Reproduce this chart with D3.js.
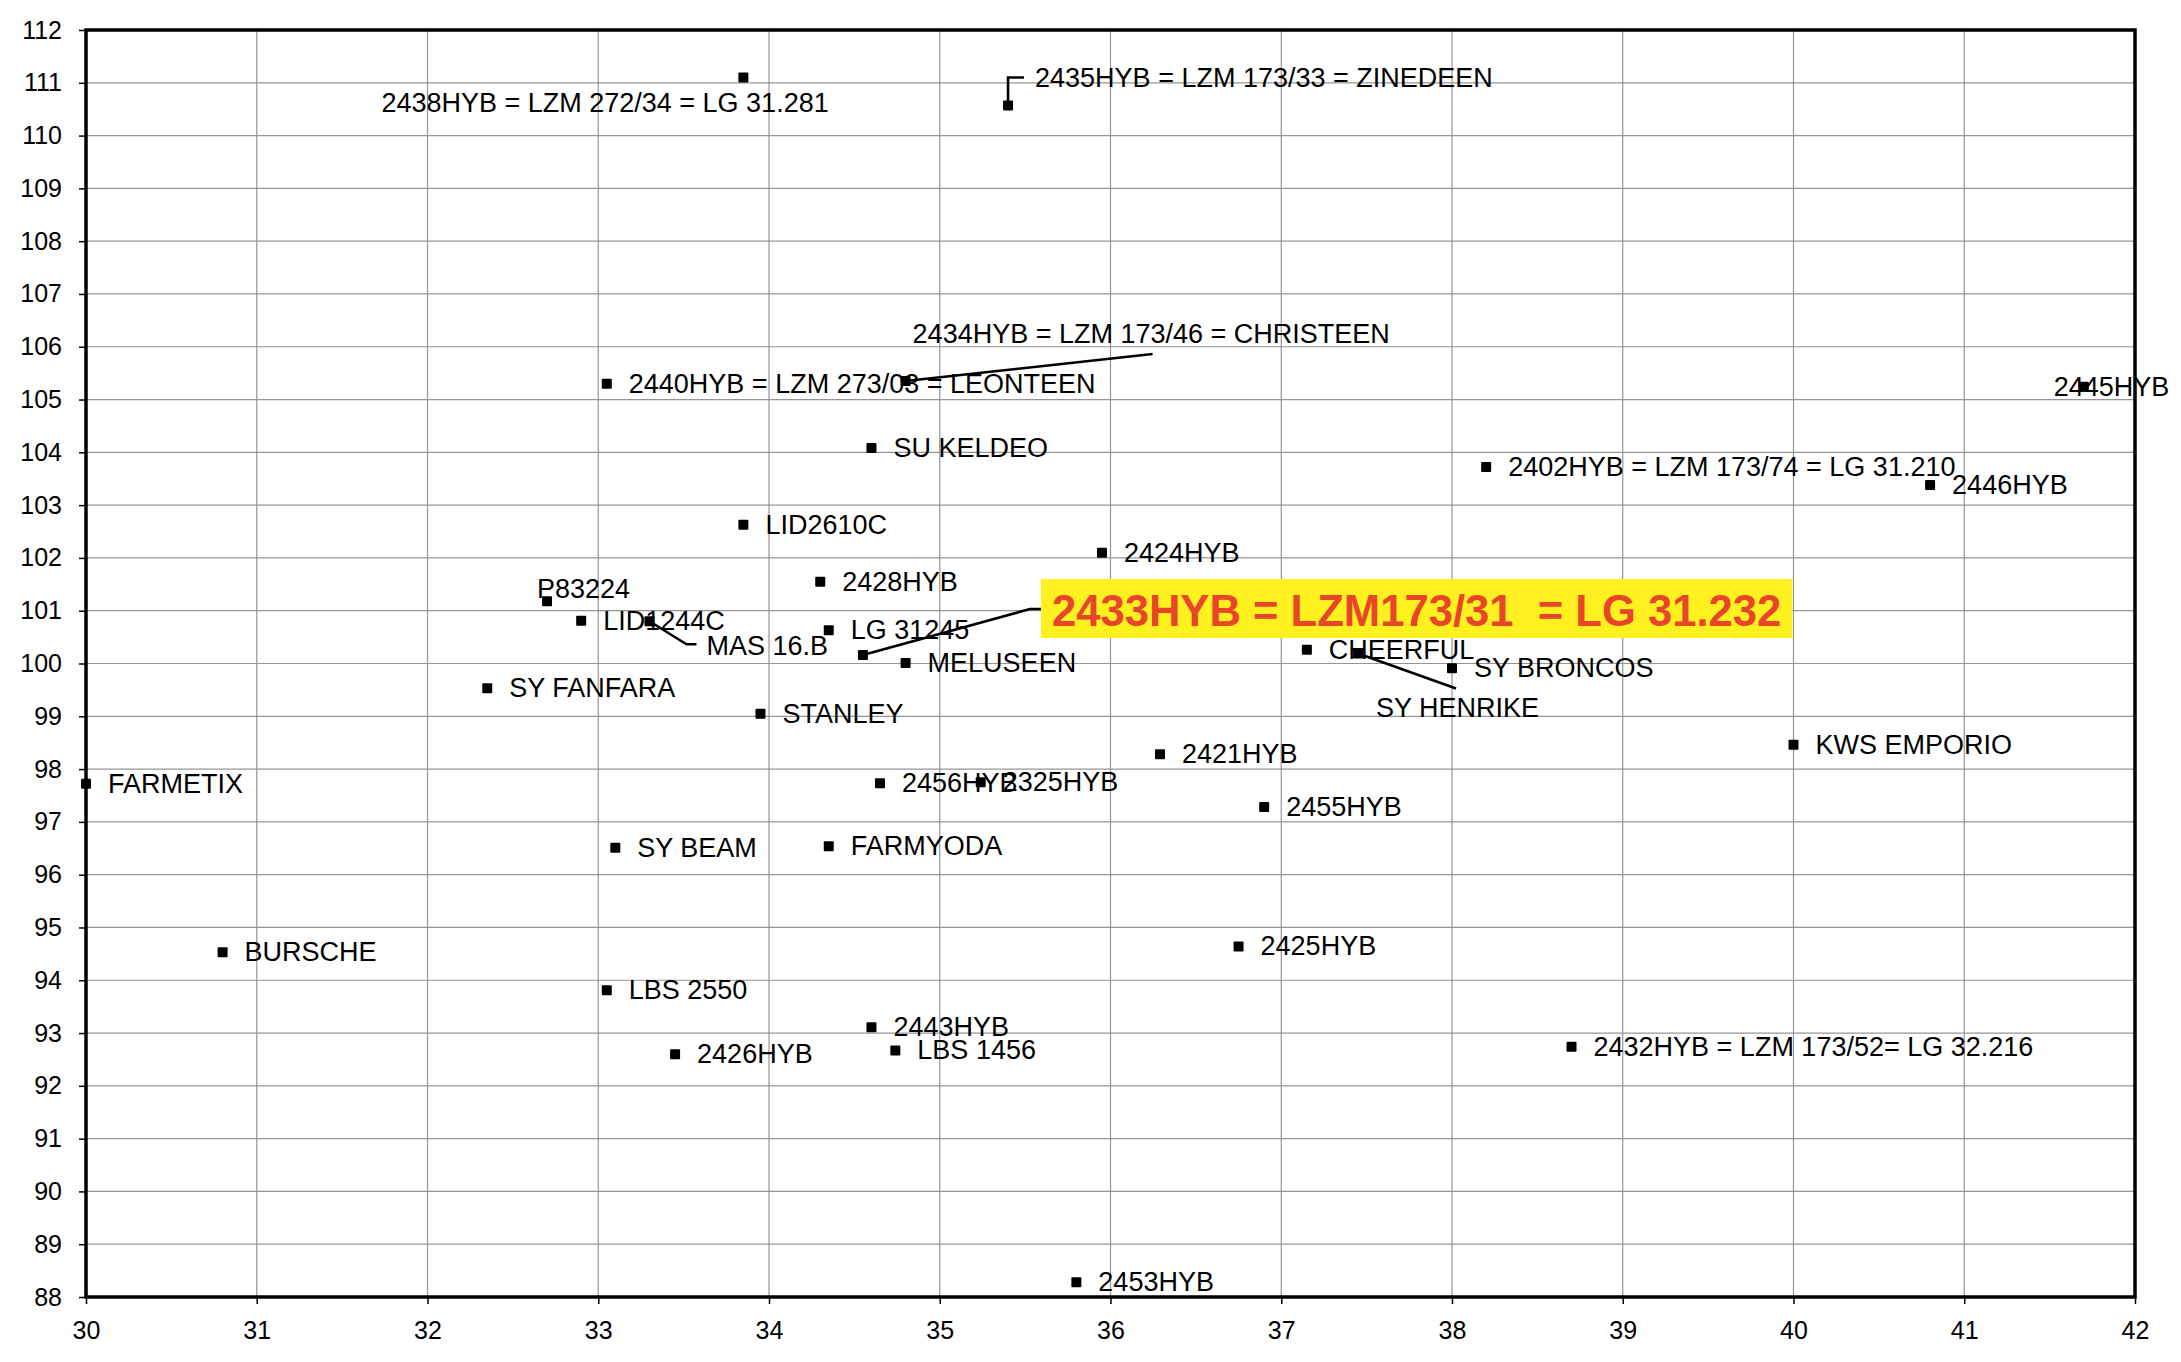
<!DOCTYPE html>
<html><head><meta charset="utf-8">
<script src="https://cdn.jsdelivr.net/npm/d3@7"></script>
<style>html,body{margin:0;padding:0;background:#fff}</style>
</head><body><svg id="chart" width="2181" height="1362"></svg>
<script>
// ---- data ----
const names = [
  "2438HYB = LZM 272/34 = LG 31.281", "2435HYB = LZM 173/33 = ZINEDEEN", "2434HYB = LZM 173/46 = CHRISTEEN",
  "2440HYB = LZM 273/03 = LEONTEEN", "SU KELDEO", "LID2610C", "2424HYB", "2428HYB", "P83224", "LID1244C",
  "MAS 16.B", "LG 31245", "2433HYB = LZM173/31  = LG 31.232", "MELUSEEN", "SY FANFARA", "STANLEY", "2421HYB",
  "2456HYB", "2325HYB", "SY BEAM", "FARMYODA", "CHEERFUL", "SY HENRIKE", "SY BRONCOS", "KWS EMPORIO",
  "2455HYB", "2425HYB", "2402HYB = LZM 173/74 = LG 31.210", "2446HYB", "2445HYB", "FARMETIX", "BURSCHE",
  "LBS 2550", "2443HYB", "LBS 1456", "2426HYB", "2453HYB", "2432HYB = LZM 173/52= LG 32.216"
];
const xValues = [
  33.85, 35.40, 34.80, 33.05, 34.60, 33.85, 35.95, 34.30, 32.70, 32.90,
  33.30, 34.35, 34.55, 34.80, 32.35, 33.95, 36.29, 34.65, 35.24, 33.10,
  34.35, 37.15, 37.45, 38.00, 40.00, 36.90, 36.75, 38.20, 40.80, 41.70,
  30.00, 30.80, 33.05, 34.60, 34.74, 33.45, 35.80, 38.70
];
const yValues = [
  111.10, 110.57, 105.35, 105.30, 104.08, 102.63, 102.10, 101.55, 101.18, 100.81,
  100.80, 100.63, 100.16, 100.01, 99.53, 99.05, 98.28, 97.73, 97.75, 96.51,
  96.54, 100.26, 100.19, 99.91, 98.46, 97.28, 94.64, 103.72, 103.38, 105.24,
  97.72, 94.53, 93.81, 93.11, 92.67, 92.60, 88.28, 92.74
];
const highlighted = ["2433HYB = LZM173/31  = LG 31.232"];
const xTicks = [30, 31, 32, 33, 34, 35, 36, 37, 38, 39, 40, 41, 42];
const yTicks = [88, 89, 90, 91, 92, 93, 94, 95, 96, 97, 98, 99, 100, 101, 102, 103, 104, 105, 106, 107, 108, 109, 110, 111, 112];

// ---- label layout (pixel offsets from the marker) ----
const labelLayout = {
  "2438HYB = LZM 272/34 = LG 31.281": {dx: -362, dy: 25},
  "2435HYB = LZM 173/33 = ZINEDEEN": {dx: 27, dy: -27, leader: [[0,0],[0,-28],[16,-28]]},
  "2434HYB = LZM 173/46 = CHRISTEEN": {dx: 7, dy: -47, leader: [[0,0],[247,-27]]},
  "P83224": {dx: -10, dy: -12},
  "MAS 16.B": {dx: 57, dy: 25, leader: [[0,0],[37,23],[47,23]]},
  "2433HYB = LZM173/31  = LG 31.232": {dx: 178, dy: -46.5, leader: [[0,0],[167,-46],[178,-46]]},
  "SY HENRIKE": {dx: 18, dy: 55, leader: [[0,0],[98,35]]},
  "2445HYB": {dx: -30, dy: 0}
};

const points = names.map((n, i) => ({name: n, x: xValues[i], y: yValues[i]}));

const W = 2181, H = 1362;
const m = {left: 86, right: 2135, top: 30, bottom: 1297};
const svg = d3.select("#chart");
const font = "'Liberation Sans', Arial, Helvetica, sans-serif";

const x = d3.scaleLinear().domain([30, 42]).range([m.left, m.right]);
const y = d3.scaleLinear().domain([88, 112]).range([m.bottom, m.top]);

svg.append("rect").attr("width", W).attr("height", H).attr("fill", "#fff");

// grid
const grid = svg.append("g");
grid.selectAll("line.v").data(xTicks).join("line")
  .attr("x1", d => x(d)).attr("x2", d => x(d)).attr("y1", m.top).attr("y2", m.bottom)
  .attr("stroke", "#959595").attr("stroke-width", 1.2);
grid.selectAll("line.h").data(yTicks).join("line")
  .attr("y1", d => y(d)).attr("y2", d => y(d)).attr("x1", m.left).attr("x2", m.right)
  .attr("stroke", "#959595").attr("stroke-width", 1.2);

// axes
const yAxis = svg.append("g").attr("transform", `translate(${m.left},0)`)
  .call(d3.axisLeft(y).tickValues(yTicks).tickSize(7).tickPadding(17).tickFormat(d3.format("d")));
const xAxis = svg.append("g").attr("transform", `translate(0,${m.bottom})`)
  .call(d3.axisBottom(x).tickValues(xTicks).tickSize(7).tickPadding(17).tickFormat(d3.format("d")));
[xAxis, yAxis].forEach(a => {
  a.select(".domain").remove();
  a.selectAll(".tick line").attr("stroke", "#000").attr("stroke-width", 1.5);
  a.selectAll(".tick text").attr("font-family", font).attr("font-size", 25).attr("fill", "#000");
});

// frame
svg.append("rect").attr("x", m.left).attr("y", m.top)
  .attr("width", m.right - m.left).attr("height", m.bottom - m.top)
  .attr("fill", "none").attr("stroke", "#000").attr("stroke-width", 3.5);

const lay = d => labelLayout[d.name] || {dx: 22, dy: 0};

// normal labels
svg.append("g").selectAll("text").data(points.filter(d => !highlighted.includes(d.name))).join("text")
  .attr("x", d => x(d.x) + lay(d).dx)
  .attr("y", d => y(d.y) + lay(d).dy)
  .attr("dominant-baseline", "central")
  .attr("font-family", font).attr("font-size", 27).attr("fill", "#000")
  .text(d => d.name);

// highlighted label box
const hl = svg.append("g");
points.filter(d => highlighted.includes(d.name)).forEach(d => {
  const L = lay(d);
  const bx = x(d.x) + L.dx, cy = y(d.y) + L.dy;
  const rect = hl.append("rect").attr("x", bx).attr("y", cy - 29.5).attr("height", 59).attr("fill", "#fff01f");
  const t = hl.append("text").attr("x", bx + 11).attr("y", cy + 2)
    .attr("dominant-baseline", "central").style("white-space", "pre")
    .attr("font-family", font).attr("font-size", 43.6).attr("font-weight", "bold").attr("fill", "#e8452a")
    .text(d.name);
  const w = t.node().getComputedTextLength();
  rect.attr("width", w + 22);
});

// leader lines
svg.append("g").selectAll("path").data(points.filter(d => lay(d).leader)).join("path")
  .attr("d", d => d3.line()(lay(d).leader.map(p => [x(d.x) + p[0], y(d.y) + p[1]])))
  .attr("fill", "none").attr("stroke", "#000").attr("stroke-width", 2.6);

// markers
svg.append("g").selectAll("rect").data(points).join("rect")
  .attr("x", d => x(d.x) - 5).attr("y", d => y(d.y) - 5)
  .attr("width", 10).attr("height", 10).attr("rx", 1).attr("fill", "#000");
</script></body></html>
